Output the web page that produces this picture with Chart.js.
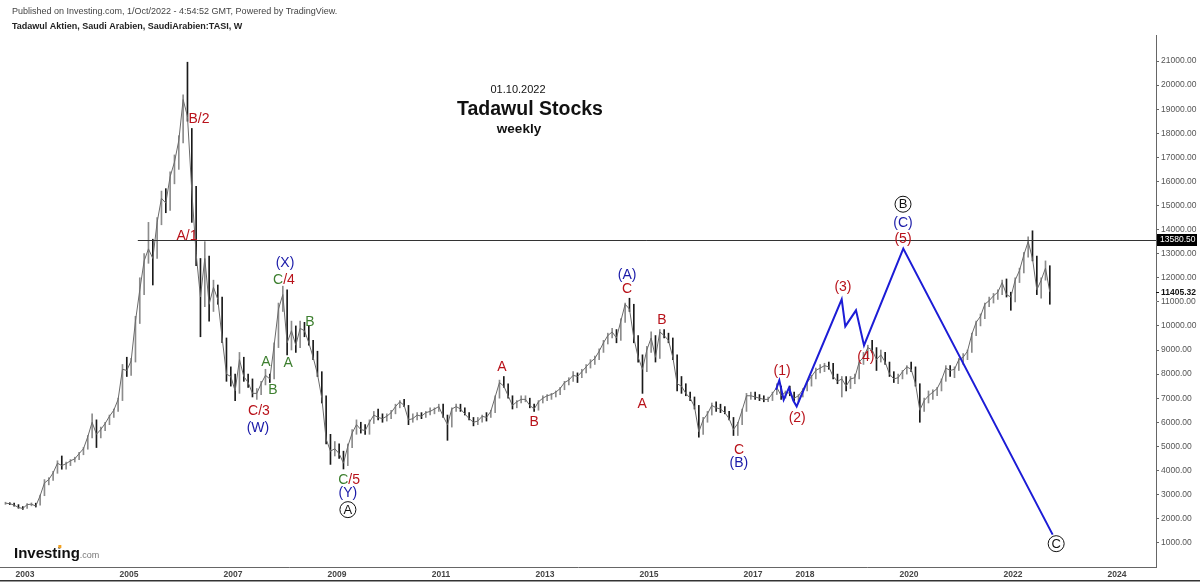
<!DOCTYPE html>
<html lang="en">
<head>
<meta charset="UTF-8">
<title>Tadawul Stocks weekly</title>
<script src="https://cdn.jsdelivr.net/npm/chart.js"></script>
<style>
  body { margin: 0; background: #fff; }
  #wrap { width: 1200px; height: 584px; }
</style>
</head>
<body>
<div id="wrap"><canvas id="chart" width="1200" height="584"></canvas></div>
<script>
// TASI, monthly ranges (Aug 2002 .. Sep 2022)
const startYear = 2002, startMonth = 8;
const highs = [
  2680, 2660, 2640, 2580, 2500,
  2620, 2650, 2640, 2980, 3620, 3700, 3960, 4400, 4600, 4350, 4450, 4550,
  4750, 4950, 5450, 6350, 6100, 5800, 6000, 6300, 6550, 7000, 8400, 8700,
  8650, 10400, 12000, 13000, 14300, 13600, 14500, 15600, 15700, 16400, 17100, 17900,
  19600, 20950, 18200, 15800, 12800, 13500, 12900, 11900, 11700, 11200, 9500, 8300,
  8000, 8900, 8700, 8000, 7800, 7400, 7700, 8200, 8000, 9300, 10950, 11650,
  11500, 10200, 10000, 10200, 10150, 10000, 9400, 8950, 8100, 7100, 5500, 5200,
  5100, 4800, 5100, 5700, 6100, 6000, 5900, 6100, 6450, 6550, 6350, 6350,
  6500, 6750, 6900, 6950, 6700, 6350, 6400, 6400, 6450, 6600, 6600, 6750,
  6750, 6300, 6600, 6750, 6750, 6600, 6400, 6200, 6200, 6300, 6400, 6500,
  7100, 7750, 7900, 7600, 7100, 6900, 7100, 7100, 7000, 6750, 6900, 7100,
  7150, 7200, 7300, 7450, 7700, 7850, 8100, 8050, 8200, 8400, 8600, 8750,
  9050, 9400, 9700, 9900, 9850, 10300, 10950, 11150, 10900, 9600, 8800, 9150,
  9750, 9600, 9850, 9850, 9700, 9500, 8800, 7900, 7600, 7250, 7050, 6700,
  6200, 6450, 6800, 6850, 6750, 6650, 6450, 6200, 6000, 6550, 7200, 7250,
  7250, 7150, 7100, 7050, 7250, 7600, 7500, 7300, 7500, 7250, 7150, 7400,
  7700, 7950, 8250, 8400, 8450, 8500, 8450, 8000, 7900, 7900, 7900, 8000,
  8550, 8900, 9200, 9400, 9100, 9000, 8900, 8500, 8100, 8000, 8150, 8350,
  8500, 8300, 7600, 7000, 7300, 7350, 7450, 7800, 8350, 8350, 8300, 8650,
  8850, 9000, 9700, 10200, 10500, 10950, 11200, 11350, 11500, 11900, 11950, 11400,
  12000, 12400, 13050, 13700, 13950, 12900, 12000, 12700, 12500
];
const lows = [
  2590, 2580, 2520, 2430, 2380,
  2420, 2530, 2480, 2560, 2950, 3400, 3580, 3880, 4050, 4050, 4200, 4350,
  4450, 4650, 4880, 5350, 4950, 5350, 5650, 5900, 6200, 6450, 6900, 7900,
  7950, 8500, 10100, 11300, 12600, 11700, 12800, 14200, 14700, 14800, 15900, 16500,
  17600, 18500, 14300, 12500, 9550, 10800, 10200, 10600, 10900, 9300, 7700, 7500,
  6900, 7200, 7700, 7450, 7050, 6950, 7150, 7550, 7650, 7800, 9100, 10600,
  8800, 9000, 8900, 9100, 9550, 9200, 8600, 7900, 6800, 5100, 4250, 4600,
  4500, 4060, 4200, 4950, 5500, 5550, 5500, 5500, 5950, 6100, 6000, 6050,
  6150, 6350, 6600, 6650, 5900, 6000, 6100, 6150, 6200, 6300, 6350, 6450,
  6200, 5250, 5800, 6450, 6450, 6300, 6100, 5850, 5900, 6000, 6050, 6200,
  6400, 7000, 7450, 7000, 6550, 6600, 6800, 6850, 6600, 6450, 6500, 6800,
  6900, 6950, 7050, 7150, 7350, 7550, 7700, 7650, 7850, 8050, 8250, 8400,
  8600, 8900, 9250, 9500, 9300, 9400, 10150, 10600, 9300, 8500, 7200, 8100,
  8900, 8500, 8650, 9500, 9300, 8600, 7300, 7200, 7100, 6900, 6550, 5380,
  5500, 6000, 6300, 6450, 6400, 6350, 6100, 5450, 5450, 5900, 6450, 6950,
  6950, 6900, 6850, 6850, 6900, 7150, 6950, 7000, 7100, 6900, 6850, 7050,
  7300, 7500, 7800, 8050, 8100, 8200, 7800, 7600, 7050, 7300, 7400, 7600,
  7800, 8400, 8650, 8900, 8150, 8500, 8400, 7900, 7650, 7600, 7800, 8000,
  8100, 7500, 6000, 6450, 6800, 6950, 7100, 7300, 7700, 7900, 7850, 8150,
  8400, 8600, 8900, 9600, 10000, 10300, 10800, 10950, 11100, 11300, 11200, 10650,
  11000, 11800, 12200, 12850, 12700, 11300, 11150, 11900, 10900
];
const closes = [
  2640, 2620, 2560, 2460, 2420,
  2580, 2600, 2520, 2950, 3480, 3620, 3900, 4300, 4200, 4280, 4400, 4480,
  4700, 4900, 5400, 6000, 5500, 5700, 5950, 6250, 6500, 6950, 8200, 8150,
  8550, 10200, 11500, 12700, 13200, 12800, 14300, 15300, 15100, 16200, 16800, 17700,
  19400, 18700, 15600, 13000, 11200, 12800, 10900, 11600, 11100, 9500, 8000, 7900,
  7300, 8600, 7900, 7650, 7200, 7200, 7600, 7950, 7800, 9200, 10700, 11300,
  9300, 9800, 9200, 9900, 9800, 9300, 8700, 8000, 7000, 5300, 4800, 4900,
  4700, 4300, 5000, 5550, 5900, 5700, 5650, 6000, 6300, 6200, 6150, 6250,
  6400, 6650, 6850, 6700, 6100, 6150, 6300, 6250, 6400, 6450, 6550, 6650,
  6250, 5900, 6550, 6650, 6550, 6350, 6150, 6000, 6050, 6250, 6200, 6450,
  7050, 7650, 7500, 7100, 6700, 6850, 6950, 6950, 6700, 6550, 6850, 7000,
  7100, 7150, 7250, 7400, 7650, 7750, 7950, 7900, 8100, 8300, 8500, 8650,
  8950, 9300, 9600, 9750, 9500, 10200, 10900, 10700, 9500, 8700, 8200, 9000,
  9500, 8700, 9750, 9600, 9400, 8700, 7600, 7500, 7200, 7000, 6650, 5600,
  6100, 6350, 6700, 6600, 6550, 6400, 6150, 5700, 5950, 6500, 7100, 7100,
  7050, 7000, 6950, 6950, 7200, 7450, 7100, 7250, 7200, 7000, 7100, 7350,
  7650, 7900, 8150, 8250, 8350, 8300, 7900, 7700, 7800, 7500, 7800, 7850,
  8500, 8700, 9100, 9000, 8600, 8800, 8500, 8000, 7800, 7850, 8100, 8300,
  8200, 7600, 6500, 6900, 7100, 7250, 7400, 7750, 8250, 8150, 8200, 8600,
  8700, 8950, 9650, 10150, 10400, 10900, 11050, 11250, 11400, 11800, 11300, 11200,
  11900, 12300, 12950, 13500, 12800, 11500, 11900, 12400, 11405.32
];

// axes
const tickYears = [2003, 2005, 2007, 2009, 2011, 2013, 2015, 2017, 2018, 2020, 2022, 2024];
const priceTicks = [1000, 2000, 3000, 4000, 5000, 6000, 7000, 8000, 9000, 10000, 11000,
  12000, 13000, 14000, 15000, 16000, 17000, 18000, 19000, 20000, 21000];
const xMin = 2002.52, xMax = 2024.75, yMin = -10, yMax = 22080;

// horizontal level and last price
const levelValue = 13580.50, levelFrom = 2005.17;
const lastPrice = 11405.32;

// projected wave path (blue)
const waveT = [2017.442, 2017.506, 2017.59, 2017.692, 2017.775, 2017.84, 2018.706, 2018.775, 2018.981, 2019.135, 2019.89, 2022.763];
const waveV = [7349, 7736, 6933, 7432, 6904, 6655, 11104, 9981, 10647, 9191, 13212, 1333];

// wave labels: [time, value, text, colour]
const R = '#b8121a', B = '#1a1aa8', G = '#3d7f2f';
const waveLabels = [
  [2006.346, 18590, 'B/2', R], [2006.115, 13723, 'A/1', R],
  [2008.0, 12600, '(X)', B], [2007.865, 11894, 'C', G], [2008.077, 11894, '/4', R],
  [2008.48, 10148, 'B', G], [2007.635, 8484, 'A', G], [2007.77, 7320, 'B', G], [2008.06, 8443, 'A', G],
  [2007.5, 6447, 'C/3', R], [2007.48, 5740, '(W)', B],
  [2009.12, 3578, 'C', G], [2009.33, 3578, '/5', R], [2009.21, 3037, '(Y)', B],
  [2012.17, 8277, 'A', R], [2012.79, 5990, 'B', R],
  [2014.58, 12102, '(A)', B], [2014.58, 11520, 'C', R], [2015.25, 10231, 'B', R], [2014.87, 6738, 'A', R],
  [2016.73, 4825, 'C', R], [2016.73, 4285, '(B)', B],
  [2019.885, 14264, '(C)', B], [2019.885, 13599, '(5)', R],
  [2018.73, 11603, '(3)', R], [2019.17, 8692, '(4)', R], [2017.56, 8110, '(1)', R], [2017.85, 6156, '(2)', R]
];
const circled = [[2009.21, 2372, 'A'], [2019.885, 15054, 'B'], [2022.83, 958, 'C']];

// build datasets
const monthT = highs.map((_, i) => {
  const m = startMonth - 1 + i;
  return startYear + Math.floor(m / 12) + ((m % 12) + 0.5) / 12;
});
const opens = closes.map((c, i) => i ? closes[i - 1] : c);
const rangeData = highs.map((h, i) => ({ x: monthT[i], y: [lows[i], h] }));
const rangeColors = closes.map((c, i) => c >= opens[i] ? '#8c8c8c' : '#1a1a1a');
const closeData = closes.map((c, i) => ({ x: monthT[i], y: c }));
const waveData = waveT.map((t, i) => ({ x: t, y: waveV[i] }));

const overlay = {
  id: 'overlay',
  afterDatasetsDraw(chart) {
    const { ctx, chartArea, scales: { x, y } } = chart;
    ctx.save();
    // resistance level
    const ly = Math.round(y.getPixelForValue(levelValue)) + 0.5;
    ctx.strokeStyle = '#333';
    ctx.lineWidth = 1;
    ctx.beginPath();
    ctx.moveTo(x.getPixelForValue(levelFrom), ly);
    ctx.lineTo(chartArea.right, ly);
    ctx.stroke();

    // wave labels
    ctx.font = '14px Arial';
    ctx.textAlign = 'center';
    ctx.textBaseline = 'middle';
    waveLabels.forEach(([t, v, txt, col]) => {
      ctx.fillStyle = col;
      ctx.fillText(txt, x.getPixelForValue(t), y.getPixelForValue(v));
    });
    circled.forEach(([t, v, txt]) => {
      const px = x.getPixelForValue(t), py = y.getPixelForValue(v);
      ctx.fillStyle = '#fff';
      ctx.strokeStyle = '#111';
      ctx.beginPath();
      ctx.arc(px, py, 8, 0, Math.PI * 2);
      ctx.fill();
      ctx.stroke();
      ctx.fillStyle = '#111';
      ctx.font = '13px Arial';
      ctx.fillText(txt, px, py + 0.5);
    });
    ctx.restore();
  },
  afterDraw(chart) {
    const { ctx, chartArea, scales: { y } } = chart;
    ctx.save();
    // header
    ctx.textAlign = 'left';
    ctx.textBaseline = 'middle';
    ctx.fillStyle = '#444';
    ctx.font = '9px Arial';
    ctx.fillText('Published on Investing.com, 1/Oct/2022 - 4:54:52 GMT, Powered by TradingView.', 12, 12);
    ctx.fillStyle = '#222';
    ctx.font = 'bold 9px Arial';
    ctx.fillText('Tadawul Aktien, Saudi Arabien, SaudiArabien:TASI, W', 12, 27);

    // title
    ctx.textAlign = 'center';
    ctx.fillStyle = '#111';
    ctx.font = '11px Arial';
    ctx.fillText('01.10.2022', 518, 90);
    ctx.font = 'bold 19.5px Arial';
    ctx.fillText('Tadawul Stocks', 530, 110);
    ctx.font = 'bold 13.5px Arial';
    ctx.fillText('weekly', 519, 129);

    // logo
    ctx.textAlign = 'left';
    ctx.textBaseline = 'alphabetic';
    ctx.font = 'bold 15px Arial';
    ctx.fillStyle = '#111';
    ctx.fillText('Investing', 14, 558);
    const w = ctx.measureText('Investing').width;
    const wi = ctx.measureText('Invest').width;
    ctx.fillStyle = '#f2a11f';
    ctx.fillRect(14 + wi + 1, 545, 3, 3);
    ctx.font = '9px Arial';
    ctx.fillStyle = '#777';
    ctx.fillText('.com', 14 + w, 558);

    // price tags on the axis
    const ly = Math.round(y.getPixelForValue(levelValue));
    ctx.fillStyle = '#000';
    ctx.fillRect(chartArea.right + 1, ly - 6, 40, 12);
    ctx.fillStyle = '#fff';
    ctx.font = '8.5px Arial';
    ctx.textBaseline = 'middle';
    ctx.fillText(levelValue.toFixed(2), chartArea.right + 4, ly);
    const py = Math.round(y.getPixelForValue(lastPrice)) + 0.5;
    ctx.strokeStyle = '#111';
    ctx.beginPath();
    ctx.moveTo(chartArea.right, py);
    ctx.lineTo(chartArea.right + 3, py);
    ctx.stroke();
    ctx.fillStyle = '#111';
    ctx.font = 'bold 8.5px Arial';
    ctx.fillText(lastPrice.toFixed(2), chartArea.right + 5, py);

    // bottom frame line
    ctx.fillStyle = '#333';
    ctx.fillRect(0, 580, 1200, 1.5);
    ctx.restore();
  }
};

new Chart(document.getElementById('chart'), {
  type: 'bar',
  data: {
    datasets: [
      { type: 'line', data: waveData, borderColor: '#1c1cd6', borderWidth: 2, pointRadius: 0, order: 0 },
      { type: 'line', data: closeData, borderColor: '#6a6a6a', borderWidth: 1, pointRadius: 0, order: 1 },
      { type: 'bar', data: rangeData, backgroundColor: rangeColors, barThickness: 1, grouped: false, order: 2 }
    ]
  },
  options: {
    responsive: false,
    animation: false,
    devicePixelRatio: 1,
    layout: { padding: { top: 35, left: 0, right: 0, bottom: 0 } },
    plugins: { legend: { display: false }, tooltip: { enabled: false } },
    scales: {
      x: {
        type: 'linear', min: xMin, max: xMax, offset: false,
        afterBuildTicks: s => { s.ticks = tickYears.map(v => ({ value: v })); },
        afterFit: s => { s.height = 17; },
        grid: { display: false, drawTicks: false, tickLength: 0 },
        border: { display: true, color: '#666' },
        ticks: { autoSkip: false, maxRotation: 0, padding: 3, color: '#444',
          font: { family: 'Arial', size: 8.5, weight: 'bold' }, callback: v => String(v) }
      },
      y: {
        position: 'right', min: yMin, max: yMax,
        afterBuildTicks: s => { s.ticks = priceTicks.map(v => ({ value: v })); },
        afterFit: s => { s.width = 44; },
        grid: { drawOnChartArea: false, drawTicks: true, tickLength: 3, color: '#666' },
        border: { display: true, color: '#666' },
        ticks: { padding: 2, color: '#555', font: { family: 'Arial', size: 8.5 },
          callback: v => Number(v).toFixed(2) }
      }
    }
  },
  plugins: [overlay]
});
</script>
</body>
</html>
